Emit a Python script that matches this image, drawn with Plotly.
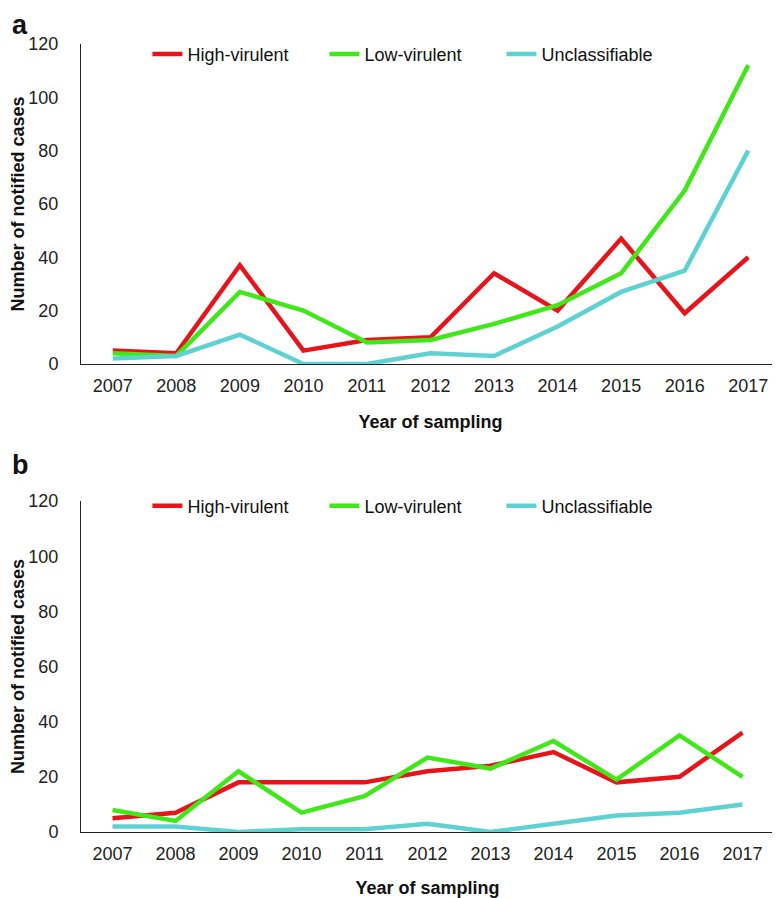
import plotly.graph_objs as go

years = ['2007', '2008', '2009', '2010', '2011', '2012', '2013', '2014', '2015', '2016', '2017']

# panel a
high_a = [5, 4, 37, 5, 9, 10, 34, 20, 47, 19, 40]
low_a = [4, 3, 27, 20, 8, 9, 15, 22, 34, 65, 112]
uncl_a = [2, 3, 11, 0, 0, 4, 3, 14, 27, 35, 80]

# panel b
high_b = [5, 7, 18, 18, 18, 22, 24, 29, 18, 20, 36]
low_b = [8, 4, 22, 7, 13, 27, 23, 33, 19, 35, 20]
uncl_b = [2, 2, 0, 1, 1, 3, 0, 3, 6, 7, 10]

series_names = ['High-virulent', 'Low-virulent', 'Unclassifiable']
colors = ['#E8141C', '#40E81A', '#5ED2D2']

FONT = 'Arial, Liberation Sans, sans-serif'

fig = go.Figure()

for name, vals, col in zip(series_names, [high_a, low_a, uncl_a], colors):
    fig.add_trace(go.Scatter(x=years, y=vals, mode='lines', name=name,
                             line=dict(color=col, width=4.5),
                             xaxis='x', yaxis='y', legend='legend'))

for name, vals, col in zip(series_names, [high_b, low_b, uncl_b], colors):
    fig.add_trace(go.Scatter(x=years, y=vals, mode='lines', name=name,
                             line=dict(color=col, width=4.5),
                             xaxis='x2', yaxis='y2', legend='legend2'))

xax = dict(type='category', range=[-0.5, 10.5], showline=True, linecolor='#222222',
           linewidth=1, showgrid=False, ticks='', zeroline=False, automargin=False,
           tickfont=dict(size=18, color='#222222', family=FONT),
           ticklabelstandoff=5,
           title=dict(text='<b>Year of sampling</b>', standoff=20,
                      font=dict(size=18, color='#111111', family=FONT)))
yax = dict(range=[0, 120], dtick=20, showline=True, linecolor='#222222', linewidth=1,
           showgrid=False, ticks='', zeroline=False, automargin=False,
           tickfont=dict(size=18, color='#222222', family=FONT),
           ticklabelstandoff=18,
           title=dict(text='<b>Number of notified cases</b>', standoff=1,
                      font=dict(size=18, color='#111111', family=FONT)))

leg = dict(orientation='h', x=0.095, xanchor='left', yanchor='middle',
           entrywidth=132, bgcolor='rgba(0,0,0,0)',
           font=dict(size=18, color='#111111', family=FONT))

# the page body adds an 8px margin, so the figure is 8px smaller than the window
W, H = 772, 890
L, T, B = 73, 36, 66
plot_h = H - T - B
plot_bottom = H - B

fig.update_layout(
    width=W, height=H,
    margin=dict(l=L, r=0, t=T, b=B, autoexpand=False),
    plot_bgcolor='white', paper_bgcolor='white',
    xaxis=dict(xax, domain=[0, 1], anchor='y'),
    yaxis=dict(yax, domain=[0.594, 1], anchor='x'),
    xaxis2=dict(xax, domain=[0, 0.9914], anchor='y2'),
    yaxis2=dict(yax, domain=[0, 0.42], anchor='x2'),
    legend=dict(leg, y=0.987),
    legend2=dict(leg, y=0.4137),
    annotations=[
        dict(text='<b>a</b>', x=(2 - L) / 699, y=plot_bottom / plot_h, xref='paper', yref='paper',
             xanchor='left', yanchor='top', showarrow=False,
             font=dict(size=27, family=FONT, color='#111111')),
        dict(text='<b>b</b>', x=(2 - L) / 699, y=(plot_bottom - 457) / plot_h, xref='paper', yref='paper',
             xanchor='left', yanchor='middle', showarrow=False,
             font=dict(size=27, family=FONT, color='#111111')),
    ],
)

fig.write_html("out.html")
